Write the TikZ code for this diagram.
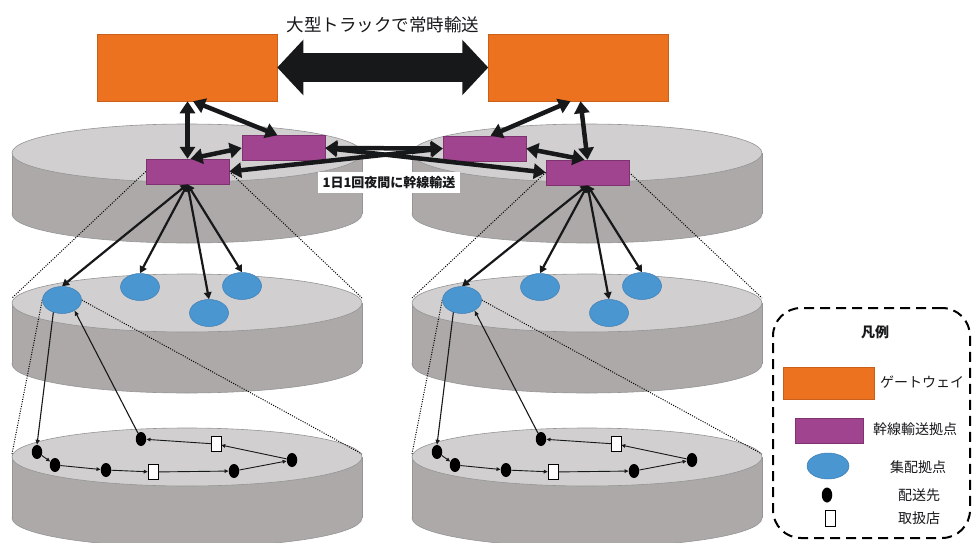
\documentclass[tikz,border=0pt]{standalone}
\usepackage{fontspec}
\newfontfamily\jp{Noto Sans CJK JP}
\usetikzlibrary{arrows.meta,shapes.geometric}

\definecolor{gwfill}{HTML}{ED7220}
\definecolor{gwline}{HTML}{C9601A}
\definecolor{hubfill}{HTML}{A1448F}
\definecolor{hubline}{HTML}{7E3370}
\definecolor{depotfill}{HTML}{4A96D0}
\definecolor{depotline}{HTML}{3C7DB5}
\definecolor{topgray}{HTML}{D1CFCF}
\definecolor{sidegray}{HTML}{ADA9A9}
\definecolor{rimgray}{HTML}{959595}
\definecolor{ink}{HTML}{17181A}

\pgfdeclarelayer{drums}
\pgfdeclarelayer{guides}
\pgfsetlayers{drums,guides,main}

% a flat drum: centre of the top face, radii 175 x 29, height 61
\newcommand\drawdrum[2]{%
  \fill[sidegray,draw=rimgray,line width=0.6pt] (#1,#2+61) ellipse [x radius=175pt, y radius=29pt];
  \fill[sidegray] (#1-175,#2) rectangle (#1+175,#2+61);
  \draw[rimgray,line width=0.6pt] (#1-175,#2) -- (#1-175,#2+61) (#1+175,#2) -- (#1+175,#2+61);
  \filldraw[fill=topgray,draw=rimgray,line width=0.6pt] (#1,#2) ellipse [x radius=175pt, y radius=29pt];
}

\tikzset{
  gateway/.style={rectangle, fill=gwfill, draw=gwline, line width=0.5pt,
    minimum width=180pt, minimum height=67pt, inner sep=0pt},
  hub/.style={rectangle, fill=hubfill, draw=hubline, line width=0.5pt,
    minimum width=83pt, minimum height=25pt, inner sep=0pt},
  depot/.style={ellipse, fill=depotfill, draw=depotline, line width=0.5pt,
    minimum width=39pt, minimum height=27pt, inner sep=0pt},
  dest/.style={ellipse, fill=black, minimum width=10.5pt, minimum height=14pt, inner sep=0pt},
  shop/.style={rectangle, fill=white, draw=black, line width=0.5pt,
    minimum width=10pt, minimum height=15pt, inner sep=0pt},
  trunk/.style={draw=ink, line width=4.5pt,
    {Triangle[length=12pt,width=15pt]}-{Triangle[length=12pt,width=15pt]}},
  bigarrow/.style={draw=ink, line width=29pt,
    {Triangle[length=26pt,width=54pt]}-{Triangle[length=26pt,width=54pt]}},
  feeder/.style={draw=ink, line width=2.2pt,
    {Triangle[length=7pt,width=7.5pt]}-{Triangle[length=7pt,width=7.5pt]}},
  route/.style={draw=ink, line width=0.9pt, -{Triangle[length=4pt,width=3.5pt]}},
  link/.style={draw=ink, line width=1.1pt, -{Triangle[length=5pt,width=4pt]}},
  guide/.style={draw=black, line width=1pt, dash pattern=on 1pt off 1.4pt},
  legtext/.style={font=\jp\fontsize{14}{16}\selectfont, inner sep=0pt, text=ink},
}

\begin{document}
\begin{tikzpicture}[x=1pt,y=-1pt]
\useasboundingbox (0,0) rectangle (972,543);

% three layers of drums on each side
\begin{pgfonlayer}{drums}
  \foreach \dx in {0,400}{
    \drawdrum{187+\dx}{153}
    \drawdrum{187+\dx}{303}
    \drawdrum{187+\dx}{457}
  }
\end{pgfonlayer}

% gateways
\node[gateway] (gwL) at (187,67.5) {};
\node[gateway] (gwR) at (578.5,67.5) {};
\draw[bigarrow] (gwL.east) -- (gwR.west);
\node[font=\jp\fontsize{17.5}{20}\selectfont, inner sep=0pt, text=ink] (ttl) at (383,24.5) {大型トラックで常時輸送};

% trunk hubs
\node[hub] (tA) at (187.5,171.5) {};
\node[hub] (tB) at (283.5,148) {};
\node[hub] (tC) at (484.5,148.5) {};
\node[hub] (tD) at (587.5,172.5) {};

\draw[trunk] (gwL.south -| tA.north) -- (tA.north);
\draw[trunk] ([xshift=6pt]gwL.south) -- ([xshift=-6pt]tB.north);
\draw[trunk] ([xshift=3pt]tA.north) -- (tB.west);
\draw[trunk] ([xshift=-8pt]gwR.south) -- ([xshift=6pt]tC.north);
\draw[trunk] ([xshift=2pt]gwR.south) -- (tD.north);
\draw[trunk] (tC.east) -- ([xshift=-3pt]tD.north);
\draw[trunk] (tB.east) -- (tC.west);
\draw[trunk] (tA.east) -- (tC.west);
\draw[trunk] (tB.east) -- (tD.west);

\node[fill=white, inner sep=0pt, minimum width=142pt, minimum height=21pt,
  font=\jp\bfseries\fontsize{13}{15}\selectfont, text=ink] (lbl) at (389,182.5) {1日1回夜間に幹線輸送};

% depots, delivery points and shops of each region
\foreach \s/\dx/\h in {L/0/tA,R/400/tD}{
  \node[depot] (e1\s) at (62+\dx,300) {};
  \node[depot] (e2\s) at (140+\dx,287) {};
  \node[depot] (e3\s) at (209+\dx,313) {};
  \node[depot] (e4\s) at (242+\dx,286) {};
  \node[dest] (d1\s) at (37+\dx,452) {};
  \node[dest] (d2\s) at (55+\dx,465) {};
  \node[dest] (d3\s) at (106+\dx,470) {};
  \node[shop] (s1\s) at (153+\dx,472) {};
  \node[dest] (d4\s) at (234+\dx,471) {};
  \node[dest] (d5\s) at (292+\dx,460) {};
  \node[shop] (s2\s) at (216+\dx,444) {};
  \node[dest] (d6\s) at (141+\dx,439) {};
  \coordinate (ml\s) at (12+\dx,298);
  \coordinate (mr\s) at (362+\dx,298);
  \coordinate (bl\s) at (12+\dx,454);
  \coordinate (br\s) at (362+\dx,454);
  \begin{pgfonlayer}{guides}
    \draw[guide] (\h.west) -- (ml\s);
    \draw[guide] (\h.east) -- (mr\s);
    \draw[guide] (e1\s.west) -- (bl\s);
    \draw[guide] (e1\s.east) -- (br\s);
  \end{pgfonlayer}
  \foreach \k in {1,...,4}{\draw[feeder] (\h.south) -- (e\k\s.north);}
  \draw[link] (e1\s.235) -- (d1\s.north);
  \draw[route] (d1\s) -- (d2\s);
  \draw[route] (d2\s) -- (d3\s);
  \draw[route] (d3\s) -- (s1\s);
  \draw[route] (s1\s) -- (d4\s);
  \draw[route] (d4\s) -- (d5\s);
  \draw[route] (d5\s) -- (s2\s);
  \draw[route] (s2\s) -- (d6\s);
  \draw[link] (d6\s) -- (e1\s.-40);
}

% legend
\node[draw=black, line width=2pt, dash pattern=on 10pt off 6pt, rounded corners=28pt,
  minimum width=197pt, minimum height=230pt, inner sep=0pt] (lg) at (871.5,423) {};
\node[font=\jp\bfseries\fontsize{14}{16}\selectfont, inner sep=0pt, text=ink] (lgt) at (875,332) {凡例};
\node[gateway, minimum width=91pt, minimum height=32pt] (lgw) at (828.5,383) {};
\node[legtext, anchor=west] (lgwt) at (880,382) {ゲートウェイ};
\node[hub, minimum width=68pt, minimum height=25pt] (lhub) at (829,430.5) {};
\node[legtext, anchor=west] (lhubt) at (873,429) {幹線輸送拠点};
\node[depot, minimum width=42pt, minimum height=26pt] (ldep) at (828,466) {};
\node[legtext, anchor=west] (ldept) at (890,467) {集配拠点};
\node[dest, minimum height=15pt] (ldst) at (827,495) {};
\node[legtext, anchor=west] (ldstt) at (898,495) {配送先};
\node[shop, minimum height=16pt] (lshp) at (830,518) {};
\node[legtext, anchor=west] (lshpt) at (898,518) {取扱店};
\end{tikzpicture}
\end{document}
